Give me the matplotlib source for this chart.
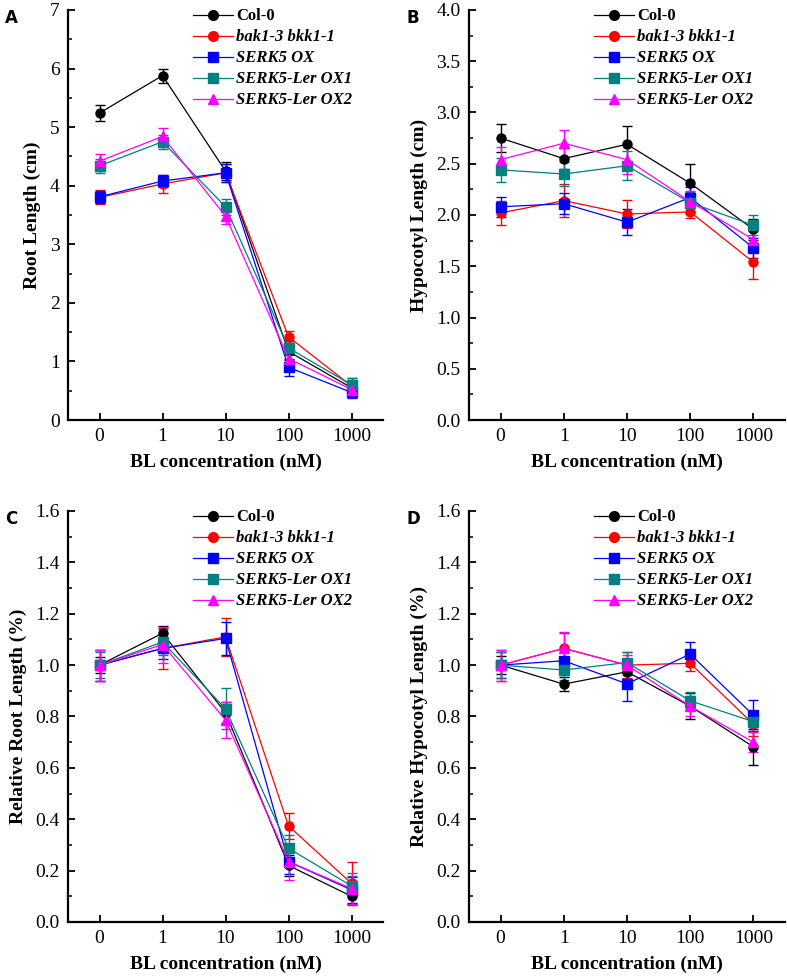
import matplotlib
matplotlib.use("Agg")
import matplotlib.pyplot as plt
from matplotlib.lines import Line2D
from matplotlib.ticker import MultipleLocator, FormatStrFormatter

plt.rcParams['font.family'] = ['Liberation Serif', 'DejaVu Serif']

conc_labels = ['0', '1', '10', '100', '1000']
genotypes = ['Col-0', 'bak1-3 bkk1-1', 'SERK5 OX', 'SERK5-Ler OX1', 'SERK5-Ler OX2']
colors = ['black', '#ff0000', '#0000ff', '#008080', '#ff00ff']
markers = ['o', 'o', 's', 's', '^']

# A: root length (cm)
root_len = [[5.24, 5.88, 4.25, 1.17, 0.55],
            [3.80, 4.03, 4.22, 1.42, 0.58],
            [3.81, 4.08, 4.22, 0.90, 0.47],
            [4.34, 4.75, 3.64, 1.23, 0.60],
            [4.42, 4.84, 3.48, 1.05, 0.52]]
root_err = [[0.14, 0.12, 0.16, 0.15, 0.12],
            [0.12, 0.15, 0.15, 0.10, 0.13],
            [0.10, 0.10, 0.15, 0.15, 0.10],
            [0.12, 0.12, 0.14, 0.12, 0.12],
            [0.12, 0.14, 0.14, 0.12, 0.13]]

# B: hypocotyl length (cm)
hyp_len = [[2.75, 2.55, 2.69, 2.31, 1.86],
           [2.02, 2.14, 2.01, 2.03, 1.54],
           [2.08, 2.11, 1.93, 2.17, 1.68],
           [2.44, 2.40, 2.48, 2.12, 1.90],
           [2.54, 2.70, 2.54, 2.13, 1.76]]
hyp_err = [[0.14, 0.10, 0.18, 0.19, 0.10],
           [0.12, 0.16, 0.14, 0.06, 0.16],
           [0.10, 0.10, 0.13, 0.10, 0.10],
           [0.12, 0.12, 0.14, 0.10, 0.10],
           [0.12, 0.13, 0.14, 0.10, 0.08]]

# C: relative root length
rel_root = [[1.00, 1.124, 0.815, 0.22, 0.10],
            [1.00, 1.065, 1.11, 0.374, 0.15],
            [1.00, 1.065, 1.104, 0.235, 0.125],
            [1.00, 1.09, 0.83, 0.287, 0.14],
            [1.00, 1.08, 0.786, 0.235, 0.13]]
rel_root_err = [[0.03, 0.03, 0.04, 0.04, 0.03],
                [0.06, 0.08, 0.075, 0.05, 0.085],
                [0.06, 0.04, 0.065, 0.05, 0.05],
                [0.05, 0.05, 0.08, 0.05, 0.04],
                [0.06, 0.07, 0.07, 0.07, 0.06]]

# D: relative hypocotyl length
rel_hyp = [[1.00, 0.926, 0.974, 0.84, 0.682],
           [1.00, 1.065, 1.00, 1.007, 0.77],
           [1.00, 1.017, 0.927, 1.043, 0.805],
           [1.00, 0.981, 1.01, 0.861, 0.78],
           [1.00, 1.065, 1.00, 0.84, 0.70]]
rel_hyp_err = [[0.035, 0.027, 0.04, 0.05, 0.07],
               [0.06, 0.06, 0.05, 0.03, 0.045],
               [0.05, 0.04, 0.065, 0.045, 0.06],
               [0.05, 0.04, 0.04, 0.035, 0.04],
               [0.06, 0.065, 0.04, 0.04, 0.04]]

fig = plt.figure(figsize=(7.87, 9.77), dpi=100)

panels = [
    ('A', [0.0864, 0.5701, 0.4003, 0.4197], root_len, root_err, 'Root Length (cm)', 7, 1, 0.5, '%d'),
    ('B', [0.5959, 0.5701, 0.4015, 0.4197], hyp_len, hyp_err, 'Hypocotyl Length (cm)', 4, 0.5, 0.25, '%.1f'),
    ('C', [0.0864, 0.0563, 0.4003, 0.4207], rel_root, rel_root_err, 'Relative Root Length (%)', 1.6, 0.2, 0.1, '%.1f'),
    ('D', [0.5959, 0.0563, 0.4015, 0.4207], rel_hyp, rel_hyp_err, 'Relative Hypocotyl Length (%)', 1.6, 0.2, 0.1, '%.1f'),
]

x = list(range(len(conc_labels)))

for letter, rect, vals, errs, ylabel, ymax, major, minor, fmt in panels:
    ax = fig.add_axes(rect)
    handles = []
    for i, g in enumerate(genotypes):
        ax.errorbar(x, vals[i], yerr=errs[i], color=colors[i], marker=markers[i],
                    markersize=6.5, linewidth=0.9, elinewidth=1.0, capsize=3.5,
                    capthick=1.0, ecolor=colors[i])
        handles.append(Line2D([], [], color=colors[i], marker=markers[i],
                              markersize=7, linewidth=0.9, label=g))
    ax.set_xlim(-0.5, 4.5)
    ax.set_ylim(0, ymax)
    ax.set_xticks(x)
    ax.set_xticklabels(conc_labels)
    ax.yaxis.set_major_locator(MultipleLocator(major))
    ax.yaxis.set_minor_locator(MultipleLocator(minor))
    ax.yaxis.set_major_formatter(FormatStrFormatter(fmt))
    for s in ['top', 'right']:
        ax.spines[s].set_visible(False)
    for s in ['left', 'bottom']:
        ax.spines[s].set_linewidth(1.6)
    ax.tick_params(axis='both', which='major', direction='in', length=5, width=1.3,
                   labelsize=14, pad=6)
    ax.tick_params(axis='y', which='minor', direction='in', length=3, width=1.1)
    ax.tick_params(axis='x', which='minor', bottom=False)
    ax.set_ylabel(ylabel, fontsize=14, fontweight='bold', labelpad=6)
    ax.set_xlabel('BL concentration (nM)', fontsize=14, fontweight='bold', labelpad=6)

    leg = ax.legend(handles=handles, loc='upper left', bbox_to_anchor=(0.375, 1.02),
                    frameon=False, fontsize=12, handlelength=2.4, labelspacing=0.3,
                    handletextpad=0.2, borderaxespad=0)
    for j, t in enumerate(leg.get_texts()):
        t.set_fontweight('bold')
        if j > 0:
            t.set_fontstyle('italic')

    fig.text(rect[0] - 0.08, rect[1] + rect[3] - 0.008, letter, fontsize=12,
             fontweight='bold', family='DejaVu Sans', ha='left', va='center')

fig.savefig('out.png', dpi=100)
